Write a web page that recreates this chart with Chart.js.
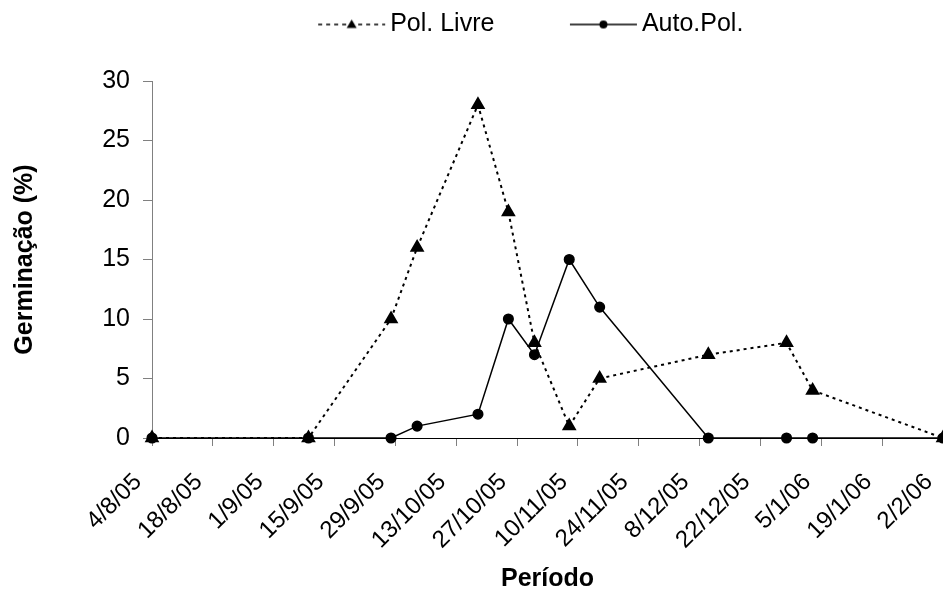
<!DOCTYPE html>
<html>
<head>
<meta charset="utf-8">
<script src="https://cdn.jsdelivr.net/npm/chart.js@4.4.1/dist/chart.umd.min.js"></script>
<style>
    html, body { margin: 0; padding: 0; background: #fff; }
    #wrap { width: 943px; height: 594px; }
</style>
</head>
<body>
<div id="wrap"><canvas id="chartGerminacao" width="943" height="594"></canvas></div>
<script>
// datas de coleta (leitura do grafico)
const datasColeta = [
    "2005-08-04", "2005-09-09", "2005-09-28", "2005-10-04", "2005-10-18",
    "2005-10-25", "2005-10-31", "2005-11-08", "2005-11-15", "2005-12-10",
    "2005-12-28", "2006-01-03", "2006-02-02"
];
const polLivre = [0, 0, 10, 16, 28, 19, 8, 1, 5, 7, 8, 4, 0];
const autoPol  = [0, 0, 0, 1, 2, 10, 7, 15, 11, 0, 0, 0, 0];

const tickLabels = [
    "4/8/05", "18/8/05", "1/9/05", "15/9/05", "29/9/05", "13/10/05", "27/10/05",
    "10/11/05", "24/11/05", "8/12/05", "22/12/05", "5/1/06", "19/1/06", "2/2/06"
];
const yTicks = [0, 5, 10, 15, 20, 25, 30];

const inicio = Date.UTC(2005, 7, 4);
function diaDe(str) {
    const [a, m, d] = str.split("-").map(Number);
    return Math.round((Date.UTC(a, m - 1, d) - inicio) / 86400000);
}

function pontos(valores) {
    return valores.map((v, i) => ({ x: diaDe(datasColeta[i]), y: v }));
}

// simbolo da legenda: linha + marcador
function simboloLegenda(estilo, tracejado) {
    const c = document.createElement("canvas");
    c.width = 140;
    c.height = 16;
    const ctx = c.getContext("2d");
    ctx.strokeStyle = "#000";
    ctx.fillStyle = "#000";
    ctx.lineWidth = 1.5;
    if (tracejado) ctx.setLineDash([4, 4]);
    ctx.beginPath();
    ctx.moveTo(72, 8);
    ctx.lineTo(139, 8);
    ctx.stroke();
    ctx.setLineDash([]);
    const mx = 105.5;
    ctx.beginPath();
    if (estilo === "triangle") {
        ctx.moveTo(mx, 3);
        ctx.lineTo(mx + 5, 11.5);
        ctx.lineTo(mx - 5, 11.5);
        ctx.closePath();
    } else {
        ctx.arc(mx, 8, 4, 0, Math.PI * 2);
    }
    ctx.fill();
    return c;
}

// legenda um pouco a direita e com espaco abaixo dela
const ajusteLegenda = {
    id: "ajusteLegenda",
    beforeLayout(chart) {
        const lg = chart.legend;
        if (lg && !lg._fitOrig) {
            lg._fitOrig = lg.fit;
            lg.fit = function () {
                this._fitOrig();
                this.height += 34;
            };
        }
    },
    afterLayout(chart) {
        chart.legend.left += 55;
    }
};

Chart.defaults.font.family = "'Liberation Sans', Arial, sans-serif";
Chart.defaults.color = "#000";

new Chart(document.getElementById("chartGerminacao"), {
    type: "line",
    data: {
        datasets: [
            {
                label: "Pol. Livre",
                data: pontos(polLivre),
                borderColor: "#000",
                borderWidth: 2,
                borderDash: [3, 4],
                pointStyle: "triangle",
                pointRadius: 6.5,
                pointBackgroundColor: "#000",
                pointBorderColor: "#000",
                tension: 0,
                clip: false
            },
            {
                label: "Auto.Pol.",
                data: pontos(autoPol),
                borderColor: "#000",
                borderWidth: 1.5,
                pointStyle: "circle",
                pointRadius: 4.8,
                pointBackgroundColor: "#000",
                pointBorderColor: "#000",
                tension: 0,
                clip: false
            }
        ]
    },
    options: {
        responsive: false,
        animation: false,
        devicePixelRatio: 1,
        layout: { padding: 0, autoPadding: false },
        plugins: {
            tooltip: { enabled: false },
            legend: {
                position: "top",
                labels: {
                    font: { size: 25 },
                    color: "#000",
                    padding: 12,
                    usePointStyle: true,
                    pointStyleWidth: 123,
                    generateLabels(chart) {
                        return chart.data.datasets.map((ds, i) => ({
                            text: ds.label,
                            datasetIndex: i,
                            hidden: false,
                            fillStyle: "#000",
                            strokeStyle: "#000",
                            lineWidth: 0,
                            pointStyle: simboloLegenda(ds.pointStyle, i === 0)
                        }));
                    }
                }
            }
        },
        scales: {
            x: {
                type: "linear",
                min: 0,
                max: 182,
                afterFit(s) {
                    s.height = 156;
                    s.paddingRight = 0;
                },
                border: { display: true, color: "#000", width: 1 },
                grid: { drawOnChartArea: false, drawTicks: true, tickLength: 8, color: "#808080" },
                ticks: {
                    stepSize: 14,
                    minRotation: 45,
                    maxRotation: 45,
                    padding: 22,
                    labelOffset: -14,
                    font: { size: 24 },
                    color: "#000",
                    callback: (v) => tickLabels[Math.round(v / 14)]
                },
                title: {
                    display: true,
                    text: "Período",
                    font: { size: 25, weight: "bold" },
                    color: "#000",
                    padding: { top: 0, bottom: 0 }
                }
            },
            y: {
                min: 0,
                max: 30,
                afterFit(s) {
                    s.width = 152;
                },
                afterBuildTicks(s) {
                    s.ticks = yTicks.map(v => ({ value: v }));
                },
                border: { display: true, color: "#808080", width: 1 },
                grid: { drawOnChartArea: false, drawTicks: true, tickLength: 9, color: "#808080" },
                ticks: {
                    padding: 13,
                    font: { size: 25 },
                    color: "#000"
                },
                title: {
                    display: true,
                    text: "Germinação (%)",
                    font: { size: 25, weight: "bold" },
                    color: "#000",
                    padding: { top: 10, bottom: 0 }
                }
            }
        }
    },
    plugins: [ajusteLegenda]
});
</script>
</body>
</html>
